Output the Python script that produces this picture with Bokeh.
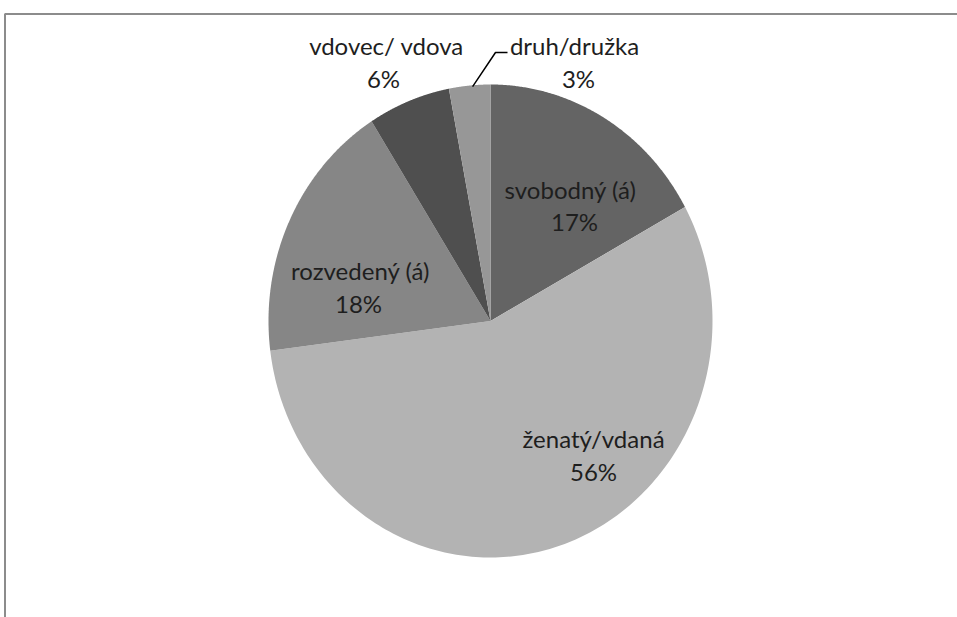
import numpy as np
from bokeh.plotting import figure
from bokeh.models import Range1d, ColumnDataSource
from bokeh.core.properties import value
from bokeh.embed import file_html
from bokeh.resources import INLINE

# Marital status shares (percent), clockwise from 12 o'clock
categories = ["svobodný (á)", "ženatý/vdaná", "rozvedený (á)", "vdovec/ vdova", "druh/družka"]
shares = [17, 56, 18, 6, 3]
colors = ["#646464", "#b3b3b3", "#868686", "#4f4f4f", "#979797"]

W, H = 957, 617
p = figure(width=W, height=H, output_backend="svg", toolbar_location=None,
           x_range=Range1d(0, W), y_range=Range1d(H, 0),
           min_border=0, outline_line_color=None)
p.axis.visible = False
p.grid.visible = False
p.background_fill_color = "white"
p.border_fill_color = "white"

# chart frame (right and bottom edges fall outside the page)
p.line(x=[4.5, 4.5, 1000], y=[700, 13.5, 13.5], line_color="#8c8c8c", line_width=2)

# elliptical pie
cx, cy, rx, ry = 490.0, 320.5, 222.0, 236.5
total = float(sum(shares))
bounds = np.concatenate([[0.0], np.cumsum(shares)]) / total * 2 * np.pi
xs, ys = [], []
for a0, a1 in zip(bounds[:-1], bounds[1:]):
    t = np.linspace(a0, a1, 200)
    xs.append(np.concatenate([[cx], cx + rx * np.sin(t)]).tolist())
    ys.append(np.concatenate([[cy], cy - ry * np.cos(t)]).tolist())
p.patches(xs=xs, ys=ys, fill_color=colors, line_color=None)

# data labels: name on first line, percentage below
name_pos = [(570, 189), (593, 438), (360, 270), (386, 45), (574, 45)]
pct_pos = [(574, 221), (593, 471), (358, 303), (383, 78), (578, 78)]
font = value("Lato")
src_names = ColumnDataSource(dict(x=[q[0] for q in name_pos], y=[q[1] for q in name_pos], t=categories))
src_pct = ColumnDataSource(dict(x=[q[0] for q in pct_pos], y=[q[1] for q in pct_pos],
                                t=[f"{v}%" for v in shares]))
for src in (src_names, src_pct):
    p.text(x="x", y="y", text="t", source=src, text_font=font, text_font_size="24px",
           text_color="#1e1e1e", text_align="center", text_baseline="middle")

# leader line for the smallest slice
mid = (bounds[-2] + bounds[-1]) / 2
ex, ey = cx + rx * np.sin(mid), cy - ry * np.cos(mid)
p.line(x=[507, 495, ex + 3], y=[52, 52, ey + 1], line_color="black", line_width=1.5)

open("out.html", "w").write(file_html(p, INLINE))
